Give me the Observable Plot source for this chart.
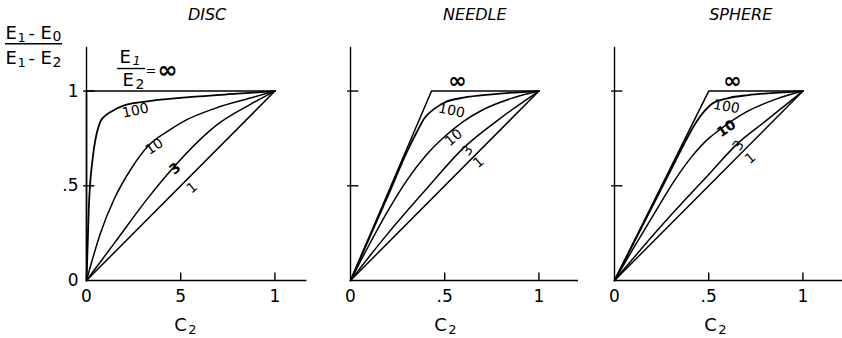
<!DOCTYPE html>
<html><head><meta charset="utf-8">
<script src="https://cdn.jsdelivr.net/npm/d3@7"></script>
<script src="https://cdn.jsdelivr.net/npm/@observablehq/plot@0.6"></script>
<style>
body{margin:0;background:#fff;}
#chart{position:relative;width:842px;height:338px;overflow:hidden;background:#fff;}
#chart svg{position:absolute;top:0;}
g[aria-label="title"] text{letter-spacing:2.5px;}
</style></head><body><div id="chart"></div>
<script>
// ---- data ----
const panelNames = ["DISC", "NEEDLE", "SPHERE"];
const ratioNames = ["∞", "100", "10", "3", "1"];
const tickValues = [0, 0.5, 1];
const discXTickLabels = ["0", "5", "1"];
const otherXTickLabels = ["0", ".5", "1"];
const yTickLabels = ["0", ".5", "1"];

// [C2, (E1-E0)/(E1-E2)]
const discInf = [[0,0],[0,1],[1,1]];
const disc100 = [[0,0],[0.004,0.12],[0.008,0.25],[0.013,0.4],[0.02,0.52],[0.03,0.62],[0.04,0.70],[0.055,0.78],[0.074,0.84],[0.1,0.87],[0.128,0.89],[0.2,0.925],[0.34,0.948],[0.6,0.972],[0.8,0.986],[1,1]];
const disc10 = [[0,0],[0.074,0.25],[0.147,0.43],[0.237,0.59],[0.327,0.71],[0.434,0.79],[0.506,0.835],[0.686,0.91],[0.865,0.962],[1,1]];
const disc3 = [[0,0],[0.15,0.2],[0.33,0.44],[0.46,0.595],[0.69,0.82],[0.87,0.93],[1,1]];
const disc1 = [[0,0],[1,1]];

const needleInf = [[0,0],[0.43,1],[1,1]];
const needle100 = [[0,0],[0.1,0.225],[0.2,0.45],[0.3,0.68],[0.35,0.78],[0.395,0.86],[0.45,0.91],[0.5,0.94],[0.6,0.965],[0.75,0.983],[1,1]];
const needle10 = [[0,0],[0.1,0.19],[0.2,0.37],[0.3,0.53],[0.4,0.66],[0.5,0.76],[0.6,0.84],[0.7,0.9],[0.85,0.96],[1,1]];
const needle3 = [[0,0],[0.2,0.25],[0.4,0.48],[0.6,0.7],[0.8,0.86],[1,1]];
const needle1 = [[0,0],[1,1]];

const sphereInf = [[0,0],[0.5,1],[1,1]];
const sphere100 = [[0,0],[0.1,0.195],[0.2,0.39],[0.3,0.585],[0.39,0.76],[0.43,0.83],[0.478,0.895],[0.52,0.935],[0.6,0.962],[0.71,0.979],[0.85,0.99],[1,1]];
const sphere10 = [[0,0],[0.1,0.17],[0.23,0.385],[0.32,0.53],[0.407,0.65],[0.5,0.75],[0.55,0.79],[0.7,0.89],[0.85,0.955],[1,1]];
const sphere3 = [[0,0],[0.25,0.29],[0.5,0.56],[0.65,0.72],[0.8,0.84],[1,1]];
const sphere1 = [[0,0],[1,1]];

// ---- layout ----
const FONT = "DejaVu Sans";
const ML = 86, MT = 47;
const panelSeries = [
  [discInf, disc100, disc10, disc3, disc1],
  [needleInf, needle100, needle10, needle3, needle1],
  [sphereInf, sphere100, sphere10, sphere3, sphere1]
];
const panelLayout = [
  {left: 0, xEnd: 1.17, titleX: 0.64, c2X: 0.525, xTicks: discXTickLabels,
   labels: [{x:0.26,y:0.897,r:-12},{x:0.36,y:0.707,r:-35},{x:0.47,y:0.59,r:-40,b:true},{x:0.56,y:0.49,r:-40}]},
  {left: 264, xEnd: 1.21, titleX: 0.66, c2X: 0.504, xTicks: otherXTickLabels,
   inf: {x:0.568,y:1.053},
   labels: [{x:0.536,y:0.897,r:12},{x:0.547,y:0.755,r:-40},{x:0.62,y:0.686,r:-55},{x:0.68,y:0.624,r:-40}]},
  {left: 528, xEnd: 1.21, titleX: 0.67, c2X: 0.536, xTicks: otherXTickLabels,
   inf: {x:0.626,y:1.053},
   labels: [{x:0.594,y:0.918,r:10},{x:0.594,y:0.802,r:-35,b:true},{x:0.658,y:0.712,r:-55},{x:0.72,y:0.645,r:-40}]}
];

// text placed by pixel offset from the frame's top-left corner (annotations only)
function pxText(str, px, py, size, extra = {}) {
  return Plot.text([str], {frameAnchor: "top-left", dx: px - ML, dy: py - MT, textAnchor: "start",
    lineAnchor: "middle", fontSize: size, text: d => d, ...extra});
}

const chart = document.getElementById("chart");
panelNames.forEach((name, p) => {
  const L = panelLayout[p];
  const series = panelSeries[p];
  const marks = [
    Plot.ruleX([0], {y1: 0, y2: 1.23, strokeWidth: 1.4}),
    Plot.ruleY([0], {x1: 0, x2: L.xEnd, strokeWidth: 1.4}),
    Plot.ruleX([0.5, 1], {y1: 0, y2: 0.04, strokeWidth: 1.4}),
    Plot.ruleY([0.5, 1], {x1: -0.015, x2: 0.045, strokeWidth: 1.4}),
    Plot.text(tickValues, {x: d => d, y: 0, dy: 16, text: (d, i) => L.xTicks[i], fontSize: 17}),
    Plot.text(["C"], {x: L.c2X, y: 0, dy: 45, dx: -5, text: d => d, fontSize: 18}),
    Plot.text(["2"], {x: L.c2X, y: 0, dy: 49, dx: 7, text: d => d, fontSize: 13}),
    Plot.text([name], {x: L.titleX, frameAnchor: "top", lineAnchor: "middle", dy: -33, text: d => d,
      fontSize: 16, fontStyle: "italic", ariaLabel: "title"})
  ];
  series.forEach((pts, s) => {
    marks.push(Plot.line(pts, {x: d => d[0], y: d => d[1], curve: s === 0 ? "linear" : "monotone-x",
      strokeWidth: s === 1 ? 1.8 : 1.5, stroke: "black"}));
  });
  L.labels.forEach((lab, k) => {
    marks.push(Plot.text([ratioNames[k + 1]], {x: lab.x, y: lab.y, rotate: lab.r, text: d => d,
      fontSize: 14, fontWeight: lab.b ? "bold" : "normal"}));
  });
  if (L.inf) {
    marks.push(Plot.text([ratioNames[0]], {x: L.inf.x, y: L.inf.y, text: d => d, fontSize: 22, fontWeight: "bold"}));
  }
  if (p === 0) {
    marks.push(
      Plot.text(tickValues, {x: 0, y: d => d, dx: -8, textAnchor: "end", text: (d, i) => yTickLabels[i], fontSize: 17}),
      // y-axis quantity: (E1 - E0) / (E1 - E2)
      pxText("E", 5, 33, 18), pxText("1", 17, 37, 13), pxText("-", 28, 33, 18),
      pxText("E", 40, 33, 18), pxText("0", 52, 36, 14),
      Plot.ruleY([1.25], {x1: -0.43, x2: -0.127, strokeWidth: 1.4}),
      pxText("E", 5, 58, 18), pxText("1", 17, 62, 13), pxText("-", 28, 58, 18),
      pxText("E", 40, 58, 18), pxText("2", 52, 62, 14),
      // key: E1 / E2 = ∞
      pxText("E", 119, 57, 18), pxText("1", 132, 60, 13, {fontStyle: "italic"}),
      Plot.ruleY([1.119], {x1: 0.165, x2: 0.313, strokeWidth: 1.4}),
      pxText("E", 122, 80, 18), pxText("2", 135, 84, 14),
      pxText("=", 145, 70, 13),
      Plot.text([ratioNames[0]], {x: 0.43, y: 1.108, text: d => d, fontSize: 24, fontWeight: "bold"})
    );
  }
  const svg = Plot.plot({
    width: 314, height: 338,
    marginLeft: ML, marginRight: 0, marginTop: MT, marginBottom: 58,
    x: {domain: [0, 1.21], axis: null},
    y: {domain: [0, 1.23], axis: null},
    style: {background: "transparent", fontFamily: FONT, color: "black", overflow: "visible"},
    marks
  });
  svg.style.left = L.left + "px";
  chart.appendChild(svg);
});
</script></body></html>
